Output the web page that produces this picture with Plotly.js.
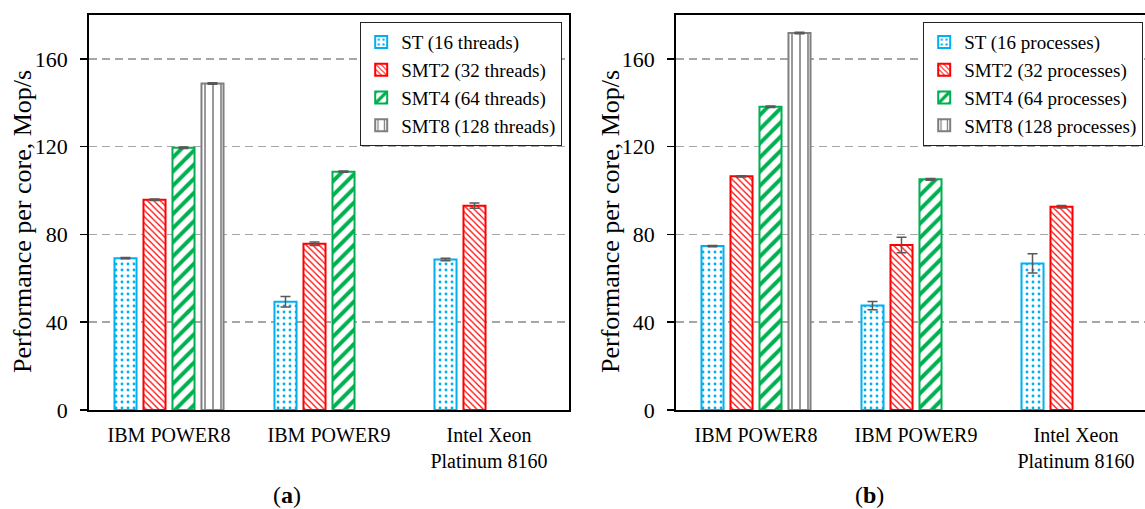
<!DOCTYPE html>
<html>
<head>
<meta charset="utf-8">
<script src="https://cdn.plot.ly/plotly-3.0.1.min.js"></script>
<style>
  html, body { margin: 0; padding: 0; background: #fff; overflow: hidden; }
  #chart { width: 1160px; height: 509px; }
</style>
</head>
<body>
<div id="chart"></div>
<script>
// Processor platforms on the x axis
const platforms = ['IBM POWER8', 'IBM POWER9', 'Intel Xeon<br>Platinum 8160'];

// (a) multithreaded runs, Mop/s per core
const threadsST   = [69.2, 49.3, 68.6];
const threadsSMT2 = [95.8, 75.8, 93.1];
const threadsSMT4 = [119.5, 108.6, null];
const threadsSMT8 = [148.8, null, null];
const threadsErrST   = [0.3, 2.4, 0.6];
const threadsErrSMT2 = [0.3, 0.8, 1.2];
const threadsErrSMT4 = [0.3, 0.3, 0];
const threadsErrSMT8 = [0.3, 0, 0];

// (b) multiprocess runs, Mop/s per core
const procST   = [74.7, 47.6, 66.8];
const procSMT2 = [106.5, 75.2, 92.6];
const procSMT4 = [138.2, 105.1, null];
const procSMT8 = [171.8, null, null];
const procErrST   = [0.3, 1.9, 4.4];
const procErrSMT2 = [0.3, 3.5, 0.6];
const procErrSMT4 = [0.3, 0.4, 0];
const procErrSMT8 = [0.3, 0, 0];

const labelsThreads = ['ST (16 threads)', 'SMT2 (32 threads)', 'SMT4 (64 threads)', 'SMT8 (128 threads)'];
const labelsProc = ['ST (16 processes)', 'SMT2 (32 processes)', 'SMT4 (64 processes)', 'SMT8 (128 processes)'];

// Per-mode look: outline colour and hatch pattern
const styles = [
  { color: '#00B0F0', pattern: { shape: '.', size: 6, solidity: 0.18 } },
  { color: '#FF0000', pattern: { shape: '\\', size: 4.5, solidity: 0.28 } },
  { color: '#00B050', pattern: { shape: '/', size: 10, solidity: 0.4 } },
  { color: '#7F7F7F', pattern: { shape: '|', size: 8, solidity: 0.2 } }
];

function makeTrace(vals, errs, name, style, xa, ya, legend) {
  return {
    type: 'bar',
    x: platforms,
    y: vals,
    name: name,
    xaxis: xa,
    yaxis: ya,
    legend: legend,
    marker: {
      color: '#ffffff',
      line: { color: style.color, width: 2 },
      pattern: {
        shape: style.pattern.shape,
        size: style.pattern.size,
        solidity: style.pattern.solidity,
        fgcolor: style.color,
        bgcolor: '#ffffff',
        fillmode: 'replace'
      }
    },
    error_y: { type: 'data', array: errs, visible: true, color: '#595959', thickness: 1.5, width: 5 },
    hoverinfo: 'skip'
  };
}

const threadVals = [threadsST, threadsSMT2, threadsSMT4, threadsSMT8];
const threadErrs = [threadsErrST, threadsErrSMT2, threadsErrSMT4, threadsErrSMT8];
const procVals = [procST, procSMT2, procSMT4, procSMT8];
const procErrs = [procErrST, procErrSMT2, procErrSMT4, procErrSMT8];

const data = [];
for (let i = 0; i < 4; i++) {
  data.push(makeTrace(threadVals[i], threadErrs[i], labelsThreads[i], styles[i], 'x', 'y', 'legend'));
}
for (let i = 0; i < 4; i++) {
  data.push(makeTrace(procVals[i], procErrs[i], labelsProc[i], styles[i], 'x2', 'y2', 'legend2'));
}

const W = 1160, H = 509;
const serif = 'Liberation Serif';

const xCommon = {
  showline: true, linecolor: '#000', linewidth: 1.8, mirror: true,
  ticks: '', showgrid: false, zeroline: false,
  tickfont: { family: serif, size: 20, color: '#000' },
  ticklabelstandoff: 6,
  fixedrange: true
};
const yCommon = {
  range: [0, 180], dtick: 40, tick0: 0,
  showline: true, linecolor: '#000', linewidth: 1.8, mirror: true,
  ticks: 'outside', ticklen: 7, tickwidth: 1.5, tickcolor: '#000',
  showgrid: true, gridcolor: '#A6A6A6', gridwidth: 1.5, griddash: '8px,5px',
  zeroline: false,
  tickfont: { family: serif, size: 22, color: '#000' },
  ticklabelstandoff: 8,
  fixedrange: true
};

const legendCommon = {
  font: { family: serif, size: 19, color: '#000' },
  bgcolor: '#ffffff', bordercolor: '#222', borderwidth: 1.2,
  xref: 'paper', yref: 'paper', xanchor: 'right', yanchor: 'top',
  itemwidth: 30, tracegroupgap: 0, traceorder: 'normal'
};

const layout = {
  width: W, height: H,
  margin: { l: 0, r: 0, t: 0, b: 0 },
  paper_bgcolor: '#ffffff', plot_bgcolor: '#ffffff',
  font: { family: serif, color: '#000' },
  barmode: 'group', bargap: 0.275, bargroupgap: 0.24,
  showlegend: true,
  xaxis: Object.assign({}, xCommon, { domain: [89 / W, 569 / W], anchor: 'y' }),
  yaxis: Object.assign({}, yCommon, { domain: [99 / H, 494 / H], anchor: 'x' }),
  xaxis2: Object.assign({}, xCommon, { domain: [676 / W, 1156 / W], anchor: 'y2' }),
  yaxis2: Object.assign({}, yCommon, { domain: [99 / H, 494 / H], anchor: 'x2' }),
  legend: Object.assign({}, legendCommon, { x: 562 / W, y: 1 - 22 / H }),
  legend2: Object.assign({}, legendCommon, { x: 1143 / W, y: 1 - 22 / H }),
  annotations: [
    { text: 'Performance per core, Mop/s', textangle: -90, xref: 'paper', yref: 'paper',
      x: 22 / W, y: 1 - 222 / H, xanchor: 'center', yanchor: 'middle', showarrow: false,
      font: { family: serif, size: 26, color: '#000' } },
    { text: 'Performance per core, Mop/s', textangle: -90, xref: 'paper', yref: 'paper',
      x: 610 / W, y: 1 - 222 / H, xanchor: 'center', yanchor: 'middle', showarrow: false,
      font: { family: serif, size: 26, color: '#000' } },
    { text: '(<b>a</b>)', xref: 'paper', yref: 'paper', x: 287 / W, y: 1 - 495 / H,
      xanchor: 'center', yanchor: 'middle', showarrow: false,
      font: { family: serif, size: 24, color: '#000' } },
    { text: '(<b>b</b>)', xref: 'paper', yref: 'paper', x: 869 / W, y: 1 - 495 / H,
      xanchor: 'center', yanchor: 'middle', showarrow: false,
      font: { family: serif, size: 24, color: '#000' } }
  ]
};

Plotly.newPlot('chart', data, layout, { displayModeBar: false, staticPlot: true });
</script>
</body>
</html>
